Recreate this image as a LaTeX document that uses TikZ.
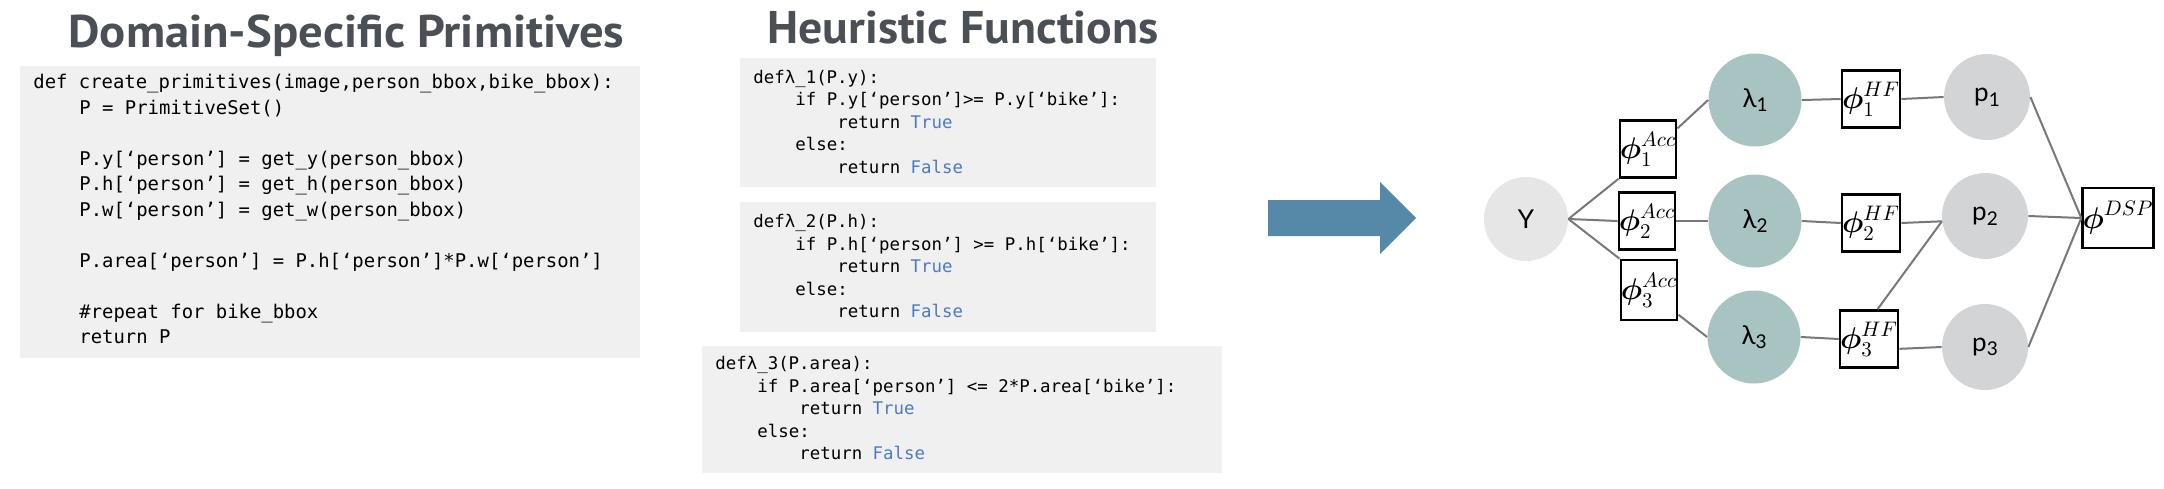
\RequirePackage{fix-cm}
\documentclass[tikz,border=0pt]{standalone}
\usepackage{fontspec}
\usepackage{graphicx}
\newfontfamily\codefont{DejaVu Sans Mono}
\newfontfamily\titlefont{PT Sans}
\newfontfamily\graphfont{Lato}
\definecolor{codebg}{RGB}{240,240,240}
\definecolor{kwblue}{RGB}{74,123,196}
\definecolor{titlegray}{RGB}{75,80,87}
\definecolor{arrowblue}{RGB}{86,137,168}
\definecolor{lamfill}{RGB}{168,196,194}
\definecolor{pfill}{RGB}{211,212,214}
\definecolor{yfill}{RGB}{230,230,230}
\definecolor{edgegray}{RGB}{120,120,120}
\newcommand\kw[1]{{\color{kwblue}#1}}
\newcommand\gsub[1]{\raisebox{-0.35ex}{\fontsize{9.5pt}{10pt}\selectfont #1}}
\newcommand\bphi{\mbox{\boldmath$\phi$}}
\tikzset{
  titletext/.style={anchor=base west, inner sep=0, text=titlegray,
    font=\titlefont\bfseries\fontsize{22.9pt}{24pt}\selectfont},
  codebox/.style={fill=codebg, draw=none, inner sep=0, anchor=north west},
  pcode/.style={anchor=base west, inner sep=0, font=\codefont\fontsize{9.45pt}{12pt}\selectfont},
  hcode/.style={anchor=base west, inner sep=0, font=\codefont\fontsize{8.7pt}{11pt}\selectfont},
  ycirc/.style={circle, fill=yfill, inner sep=0, minimum size=42pt, font=\graphfont\fontsize{13pt}{14pt}\selectfont},
  lamcirc/.style={circle, fill=lamfill, inner sep=0, minimum size=46.5pt, font=\graphfont\fontsize{13pt}{14pt}\selectfont},
  pcirc/.style={circle, fill=pfill, inner sep=0, minimum size=43pt, font=\graphfont\fontsize{13pt}{14pt}\selectfont},
  phibox/.style={draw=black, line width=1.3pt, fill=white, inner sep=0,
    minimum width=27.5pt, minimum height=28.5pt, font=\fontsize{15pt}{17pt}\selectfont},
  conn/.style={draw=edgegray, line width=1pt},
}
\begin{document}
\begin{tikzpicture}[x=0.5pt, y=-0.5pt]
\useasboundingbox (0,0) rectangle (2164,488);

% ---------- titles ----------
\node[titletext] (t1) at (68,47) {\resizebox{278pt}{\height}{Domain-Specific Primitives}};
\node[titletext] (t2) at (767,43) {\resizebox{195.5pt}{\height}{Heuristic Functions}};

% ---------- primitives code ----------
\node[codebox, minimum width=310pt, minimum height=146pt] (b1) at (20,66) {};
\node[pcode] (c1) at (33,88.5) {def create\_primitives(image,person\_bbox,bike\_bbox):};
\node[pcode] (c2) at (79,114) {P = PrimitiveSet()};
\node[pcode] (c3) at (79,165) {P.y[‘person’] = get\_y(person\_bbox)};
\node[pcode] (c4) at (79,190.5) {P.h[‘person’] = get\_h(person\_bbox)};
\node[pcode] (c5) at (79,216) {P.w[‘person’] = get\_w(person\_bbox)};
\node[pcode] (c6) at (79,267) {P.area[‘person’] = P.h[‘person’]*P.w[‘person’]};
\node[pcode] (c7) at (79,318) {\#repeat for bike\_bbox};
\node[pcode] (c8) at (79,343.5) {return P};

% ---------- heuristic functions ----------
\node[codebox, minimum width=208pt, minimum height=64.5pt] (b2) at (740,58) {};
\node[hcode] (d1) at (753,83.2) {defλ\_1(P.y):};
\node[hcode] (d2) at (795,105.7) {if P.y[‘person’]>= P.y[‘bike’]:};
\node[hcode] (d3) at (837,128.2) {return \kw{True}};
\node[hcode] (d4) at (795,150.7) {else:};
\node[hcode] (d5) at (837,173.2) {return \kw{False}};

\node[codebox, minimum width=208pt, minimum height=65pt] (b3) at (740,202) {};
\node[hcode] (e1) at (753,227.7) {defλ\_2(P.h):};
\node[hcode] (e2) at (795,250.2) {if P.h[‘person’] >= P.h[‘bike’]:};
\node[hcode] (e3) at (837,272.7) {return \kw{True}};
\node[hcode] (e4) at (795,295.2) {else:};
\node[hcode] (e5) at (837,317.7) {return \kw{False}};

\node[codebox, minimum width=260pt, minimum height=63.5pt] (b4) at (702,346) {};
\node[hcode] (f1) at (715,369.7) {defλ\_3(P.area):};
\node[hcode] (f2) at (757,392.2) {if P.area[‘person’] <= 2*P.area[‘bike’]:};
\node[hcode] (f3) at (799,414.7) {return \kw{True}};
\node[hcode] (f4) at (757,437.2) {else:};
\node[hcode] (f5) at (799,459.7) {return \kw{False}};

% ---------- big arrow ----------
\fill[arrowblue] (1268,200) -- (1380,200) -- (1380,182) -- (1416,218)
  -- (1380,254) -- (1380,236) -- (1268,236) -- cycle;

% ---------- factor graph ----------
\node[ycirc] (Y) at (1526,219) {Y};
\node[phibox] (A1) at (1648,149) {$\bphi^{Acc}_{1}$};
\node[phibox] (A2) at (1647,221) {$\bphi^{Acc}_{2}$};
\node[phibox, minimum height=30pt] (A3) at (1649,290) {$\bphi^{Acc}_{3}$};
\node[lamcirc] (L1) at (1755,100) {λ\gsub{1}};
\node[lamcirc] (L2) at (1755,221) {λ\gsub{2}};
\node[lamcirc] (L3) at (1754,337) {λ\gsub{3}};
\node[phibox] (H1) at (1871,99) {$\bphi^{HF}_{1}$};
\node[phibox] (H2) at (1871,223) {$\bphi^{HF}_{2}$};
\node[phibox] (H3) at (1869,339) {$\bphi^{HF}_{3}$};
\node[pcirc] (P1) at (1987,97) {p\gsub{1}};
\node[pcirc] (P2) at (1985,216) {p\gsub{2}};
\node[pcirc] (P3) at (1985,347) {p\gsub{3}};
\node[phibox, minimum width=31pt, minimum height=30pt] (D) at (2118,218) {$\bphi^{DSP}$};

\draw[conn] (Y.east) -- (A1.south west);
\draw[conn] (Y.east) -- (A2.west);
\draw[conn] (Y.east) -- (A3.north west);
\draw[conn] (A1.35) -- (L1.west);
\draw[conn] (A2.east) -- (L2.west);
\draw[conn] (A3.-40) -- (L3.west);
\draw[conn] (L1.east) -- (H1.west);
\draw[conn] (L2.east) -- (H2.west);
\draw[conn] (L3.east) -- (H3.west);
\draw[conn] (H1.east) -- (P1.west);
\draw[conn] (H2.east) -- (P2.187);
\draw[conn] (H3.74) -- (P2.187);
\draw[conn] (H3.-18) -- (P3.west);
\draw[conn] (P1.east) -- (D.west);
\draw[conn] (P2.east) -- (D.west);
\draw[conn] (P3.east) -- (D.west);
\end{tikzpicture}
\end{document}
